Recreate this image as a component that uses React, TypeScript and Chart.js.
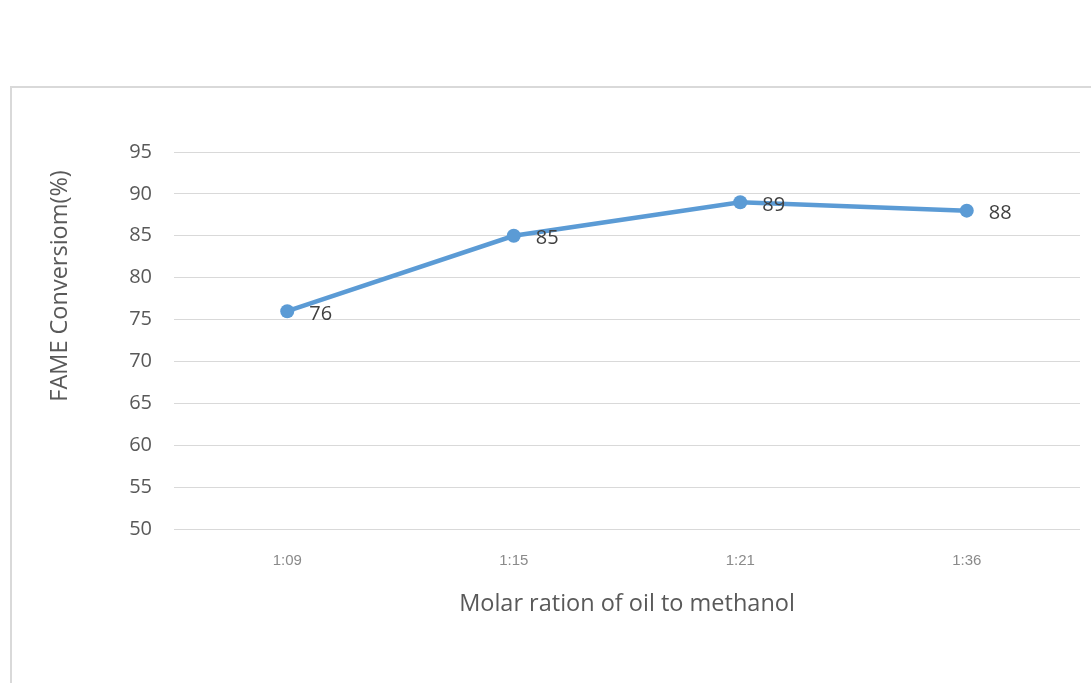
import React, { useEffect, useRef } from "react";
import { Chart, registerables } from "chart.js";

Chart.register(...registerables);

// Molar ratio of oil to methanol vs. FAME conversion
const ratios = ["1:09", "1:15", "1:21", "1:36"];
const conversion = [76, 85, 89, 88];
const yMin = 50;
const yMax = 95;
const yStep = 5;

const xTitle = "Molar ration of oil to methanol";
const yTitle = "FAME Conversiom(%)";

const W = 1091;
const H = 683;
const FONT = "'Open Sans', 'Noto Sans', sans-serif";

// Light frame around the chart, open to the right and bottom
const framePlugin = {
  id: "frame",
  beforeDraw(chart: Chart) {
    const ctx = chart.ctx;
    ctx.save();
    ctx.fillStyle = "#ffffff";
    ctx.fillRect(0, 0, chart.width, chart.height);
    ctx.strokeStyle = "#d9d9d9";
    ctx.lineWidth = 2;
    ctx.strokeRect(11, 87, 3000, 3000);
    ctx.restore();
  },
};

// Value labels to the right of each point, and the vertical axis title
const labelPlugin = {
  id: "valueLabels",
  afterDatasetsDraw(chart: Chart) {
    const ctx = chart.ctx;
    const meta = chart.getDatasetMeta(0);
    ctx.save();
    ctx.font = `20px ${FONT}`;
    ctx.fillStyle = "#404040";
    ctx.textAlign = "left";
    ctx.textBaseline = "middle";
    meta.data.forEach((pt: any, i: number) => {
      ctx.fillText(String(conversion[i]), pt.x + 22, pt.y + 3);
    });
    ctx.restore();

    ctx.save();
    ctx.translate(60, 286);
    ctx.rotate(-Math.PI / 2);
    ctx.font = `23.5px ${FONT}`;
    ctx.fillStyle = "#595959";
    ctx.textAlign = "center";
    ctx.textBaseline = "middle";
    ctx.fillText(yTitle, 0, 0);
    ctx.restore();
  },
};

export default function App() {
  const ref = useRef<HTMLCanvasElement | null>(null);

  useEffect(() => {
    if (!ref.current) return;
    const chart = new Chart(ref.current, {
      type: "line",
      data: {
        labels: ratios,
        datasets: [
          {
            data: conversion,
            borderColor: "#5b9bd5",
            backgroundColor: "#5b9bd5",
            borderWidth: 4.5,
            pointRadius: 7,
            pointHoverRadius: 7,
            pointBorderWidth: 0,
            pointBackgroundColor: "#5b9bd5",
            tension: 0,
            fill: false,
          },
        ],
      },
      options: {
        animation: false,
        responsive: false,
        devicePixelRatio: 1,
        layout: { padding: { left: 0, right: 11, top: 152, bottom: 65 } },
        plugins: {
          legend: { display: false },
          tooltip: { enabled: false },
          title: { display: false },
        },
        scales: {
          x: {
            offset: true,
            grid: { display: false, drawTicks: false },
            border: { display: false },
            ticks: {
              padding: 23,
              color: "#8a8a8a",
              font: { family: "'Liberation Sans', Arial, sans-serif", size: 15 },
            },
            title: {
              display: true,
              text: xTitle,
              color: "#595959",
              font: { family: FONT, size: 23.5 },
              padding: { top: 0, bottom: 0 },
            },
            afterFit(scale: any) {
              scale.height = 89;
            },
          },
          y: {
            min: yMin,
            max: yMax,
            grid: { color: "#d9d9d9", lineWidth: 1, drawTicks: false },
            border: { display: false },
            ticks: {
              stepSize: yStep,
              padding: 22,
              color: "#595959",
              font: { family: FONT, size: 20 },
            },
            afterFit(scale: any) {
              scale.width = 174;
            },
          },
        },
      },
      plugins: [framePlugin, labelPlugin],
    });
    return () => chart.destroy();
  }, []);

  return (
    <div style={{ position: "fixed", left: 0, top: 0, width: W, height: H, background: "#fff" }}>
      <canvas ref={ref} width={W} height={H} style={{ width: W, height: H, display: "block" }} />
    </div>
  );
}
